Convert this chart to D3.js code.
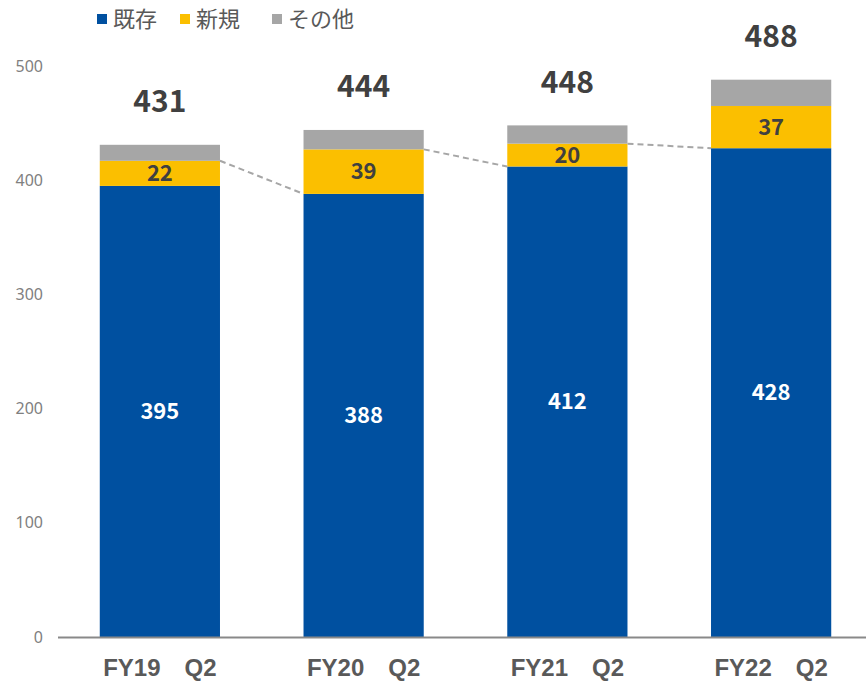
<!DOCTYPE html>
<html>
<head>
<meta charset="utf-8">
<script src="https://d3js.org/d3.v7.min.js"></script>
<style>
  body { margin: 0; background: #fff; }
  svg text { font-family: "Noto Sans CJK JP", "Noto Sans", sans-serif; }
</style>
</head>
<body>
<svg id="chart" width="866" height="689"></svg>
<script>
// data
var periods = ["FY19\u3000Q2", "FY20\u3000Q2", "FY21\u3000Q2", "FY22\u3000Q2"];
var existing = [395, 388, 412, 428];
var newer = [22, 39, 20, 37];
var other = [14, 17, 16, 23];
var totals = [431, 444, 448, 488];
var yTicks = [0, 100, 200, 300, 400, 500];
var seriesNames = ["既存", "新規", "その他"];
var colors = ["#0050A0", "#FBBF00", "#A6A6A6"];

var svg = d3.select("#chart");

var x = d3.scaleBand().domain(periods).range([58, 873]).paddingInner(0.41).paddingOuter(0.205);
var y = d3.scaleLinear().domain([0, 500]).range([637, 66]);

// y axis labels only
var yAxis = svg.append("g")
    .attr("transform", "translate(43,0)")
    .call(d3.axisLeft(y).tickValues(yTicks).tickSize(0).tickPadding(0));
yAxis.select(".domain").remove();
yAxis.selectAll("text")
    .style("font-family", "'Noto Sans', sans-serif")
    .style("font-size", "16px")
    .attr("fill", "#808080");

// stacked bars
var rows = periods.map(function (p, i) {
    return { p: p, a: existing[i], b: newer[i], c: other[i] };
});
var stack = d3.stack().keys(["a", "b", "c"])(rows);

svg.selectAll("g.layer")
    .data(stack)
    .enter()
    .append("g")
    .attr("class", "layer")
    .attr("fill", function (d, i) { return colors[i]; })
    .selectAll("rect")
    .data(function (d) { return d; })
    .enter()
    .append("rect")
    .attr("x", function (d) { return x(d.data.p); })
    .attr("y", function (d) { return y(d[1]); })
    .attr("width", x.bandwidth())
    .attr("height", function (d) { return y(d[0]) - y(d[1]); });

// dashed connector lines
var links = d3.range(periods.length - 1).map(function (i) {
    return {
        x1: x(periods[i]) + x.bandwidth(), y1: y(existing[i] + newer[i]),
        x2: x(periods[i + 1]), y2: y(existing[i + 1])
    };
});
svg.selectAll("line.link")
    .data(links)
    .enter()
    .append("line")
    .attr("class", "link")
    .attr("x1", function (d) { return d.x1; })
    .attr("y1", function (d) { return d.y1; })
    .attr("x2", function (d) { return d.x2; })
    .attr("y2", function (d) { return d.y2; })
    .attr("stroke", "#A6A6A6")
    .attr("stroke-width", 2)
    .attr("stroke-dasharray", "6,4");

// x axis line
svg.append("line")
    .attr("x1", 58).attr("x2", 866)
    .attr("y1", y(0) + 0.5).attr("y2", y(0) + 0.5)
    .attr("stroke", "#898989")
    .attr("stroke-width", 2);

// value labels
var cx = function (i) { return x(periods[i]) + x.bandwidth() / 2; };

svg.selectAll("text.lblA")
    .data(existing)
    .enter()
    .append("text")
    .attr("x", function (d, i) { return cx(i); })
    .attr("y", function (d) { return y(d / 2); })
    .attr("dy", "0.35em")
    .attr("text-anchor", "middle")
    .attr("fill", "#fff")
    .style("font-size", "22px")
    .style("font-weight", "bold")
    .text(function (d) { return d; });

svg.selectAll("text.lblB")
    .data(newer)
    .enter()
    .append("text")
    .attr("x", function (d, i) { return cx(i); })
    .attr("y", function (d, i) { return y(existing[i] + d / 2); })
    .attr("dy", "0.35em")
    .attr("text-anchor", "middle")
    .attr("fill", "#404040")
    .style("font-size", "22px")
    .style("font-weight", "bold")
    .text(function (d) { return d; });

svg.selectAll("text.total")
    .data(totals)
    .enter()
    .append("text")
    .attr("x", function (d, i) { return cx(i); })
    .attr("y", function (d, i) { return y(existing[i] + newer[i] + other[i]) - 43; })
    .attr("dy", "0.35em")
    .attr("text-anchor", "middle")
    .attr("fill", "#404040")
    .style("font-size", "30px")
    .style("font-weight", "bold")
    .text(function (d) { return d; });

// category labels
svg.selectAll("text.cat")
    .data(periods)
    .enter()
    .append("text")
    .attr("x", function (d) { return x(d) + x.bandwidth() / 2; })
    .attr("y", 668)
    .attr("dy", "0.35em")
    .attr("text-anchor", "middle")
    .attr("fill", "#595959")
    .style("font-family", "'Liberation Sans Narrow', 'Liberation Sans', sans-serif")
    .style("font-size", "24px")
    .style("font-weight", "bold")
    .text(function (d) { return d; });

// legend
var legX = [97, 180, 272];
var leg = svg.selectAll("g.leg")
    .data(seriesNames)
    .enter()
    .append("g")
    .attr("class", "leg")
    .attr("transform", function (d, i) { return "translate(" + legX[i] + ",19)"; });
leg.append("rect")
    .attr("x", 0).attr("y", -5)
    .attr("width", 10).attr("height", 10)
    .attr("fill", function (d, i) { return colors[i]; });
leg.append("text")
    .attr("x", 16)
    .attr("dy", "0.35em")
    .attr("fill", "#595959")
    .style("font-size", "22px")
    .text(function (d) { return d; });
</script>
</body>
</html>
